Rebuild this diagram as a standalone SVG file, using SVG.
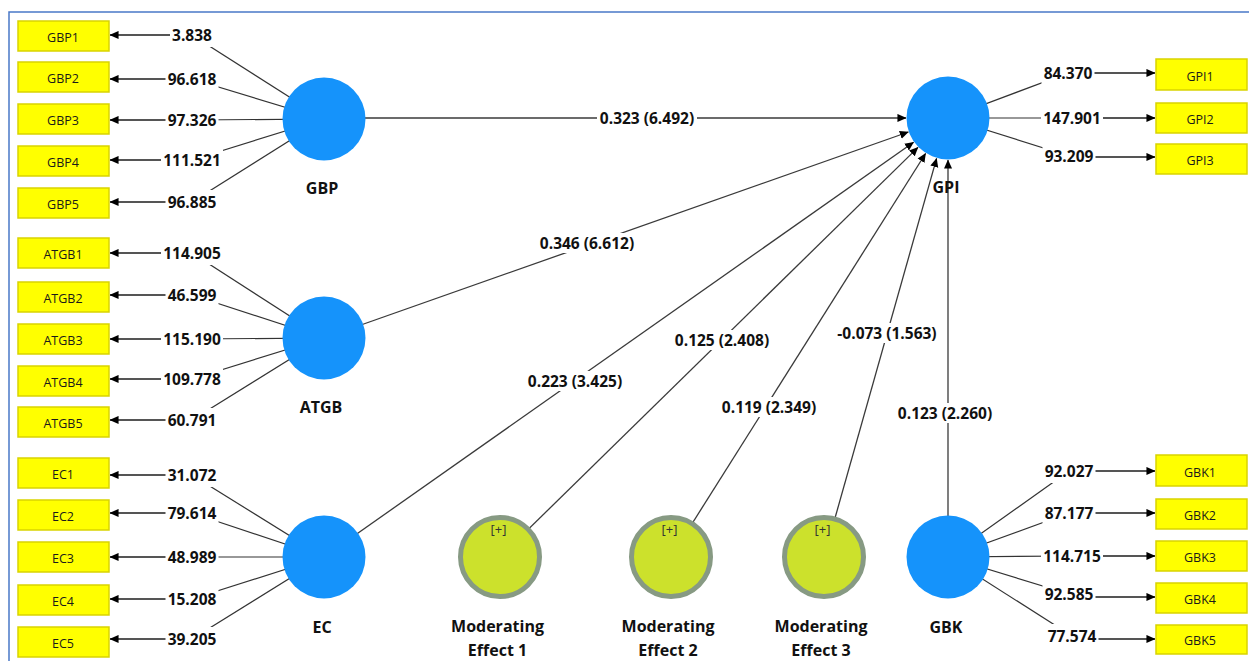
<svg xmlns="http://www.w3.org/2000/svg" width="1249" height="661" viewBox="0 0 1249 661">
<defs>
<marker id="ah" markerUnits="userSpaceOnUse" viewBox="0 0 10 10" markerWidth="9" markerHeight="9" refX="9.5" refY="5" orient="auto">
<path d="M0,0.5 L10,5 L0,9.5 z" fill="#000"/>
</marker>
<style>
.ind rect{fill:#ffff00;stroke:#d9d300;stroke-width:1.5}
.ind text{font-family:"Open Sans","Liberation Sans",sans-serif;font-size:12.5px;fill:#1a1a1a;text-anchor:middle}
.lv circle{fill:#1593fb}
.mod circle{fill:#cce12c;stroke:#879a83;stroke-width:5}
.nm{font-family:"Open Sans","Liberation Sans",sans-serif;font-size:16px;font-weight:bold;fill:#111;text-anchor:middle}
.plus{font-family:"Open Sans","Liberation Sans",sans-serif;font-size:13px;fill:#333;text-anchor:middle}
.ld{stroke:#333;stroke-width:1.2;fill:none}
.arr{stroke:#555;stroke-width:2;fill:none;marker-end:url(#ah)}
.pth{stroke:#3a3a3a;stroke-width:1.3;fill:none;marker-end:url(#ah)}
.vb{fill:#fff}
.vt{font-family:"Open Sans","Liberation Sans",sans-serif;font-size:15.5px;font-weight:bold;fill:#111;text-anchor:middle}
</style>
</defs>
<rect x="0" y="0" width="1249" height="661" fill="#fff"/>
<path d="M9,661 V12 H1249" fill="none" stroke="#4a78c8" stroke-width="1.5"/>

<g id="connectors">
<!-- GBP loadings -->
<line class="ld" x1="324" y1="119" x2="192" y2="35"/>
<line class="ld" x1="324" y1="119" x2="192" y2="79"/>
<line class="ld" x1="324" y1="119" x2="192" y2="120"/>
<line class="ld" x1="324" y1="119" x2="192" y2="160"/>
<line class="ld" x1="324" y1="119" x2="192" y2="202"/>
<line class="arr" x1="192" y1="35" x2="110" y2="35"/>
<line class="arr" x1="192" y1="79" x2="110" y2="79"/>
<line class="arr" x1="192" y1="120" x2="110" y2="120"/>
<line class="arr" x1="192" y1="160" x2="110" y2="160"/>
<line class="arr" x1="192" y1="202" x2="110" y2="202"/>
<!-- ATGB loadings -->
<line class="ld" x1="324" y1="338" x2="192" y2="253"/>
<line class="ld" x1="324" y1="338" x2="192" y2="295"/>
<line class="ld" x1="324" y1="338" x2="192" y2="339"/>
<line class="ld" x1="324" y1="338" x2="192" y2="379"/>
<line class="ld" x1="324" y1="338" x2="192" y2="420"/>
<line class="arr" x1="192" y1="253" x2="110" y2="253"/>
<line class="arr" x1="192" y1="295" x2="110" y2="295"/>
<line class="arr" x1="192" y1="339" x2="110" y2="339"/>
<line class="arr" x1="192" y1="379" x2="110" y2="379"/>
<line class="arr" x1="192" y1="420" x2="110" y2="420"/>
<!-- EC loadings -->
<line class="ld" x1="324" y1="557" x2="192" y2="475"/>
<line class="ld" x1="324" y1="557" x2="192" y2="513"/>
<line class="ld" x1="324" y1="557" x2="192" y2="557"/>
<line class="ld" x1="324" y1="557" x2="192" y2="599"/>
<line class="ld" x1="324" y1="557" x2="192" y2="639"/>
<line class="arr" x1="192" y1="475" x2="110" y2="475"/>
<line class="arr" x1="192" y1="513" x2="110" y2="513"/>
<line class="arr" x1="192" y1="557" x2="110" y2="557"/>
<line class="arr" x1="192" y1="599" x2="110" y2="599"/>
<line class="arr" x1="192" y1="639" x2="110" y2="639"/>
<!-- GPI loadings -->
<line class="ld" x1="948" y1="118" x2="1068" y2="73"/>
<line class="ld" x1="948" y1="118" x2="1072" y2="118"/>
<line class="ld" x1="948" y1="118" x2="1069" y2="156"/>
<line class="arr" x1="1068" y1="73" x2="1155" y2="73"/>
<line class="arr" x1="1072" y1="118" x2="1155" y2="118"/>
<line class="arr" x1="1069" y1="157" x2="1155" y2="157"/>
<!-- GBK loadings -->
<line class="ld" x1="948" y1="557" x2="1069" y2="471"/>
<line class="ld" x1="948" y1="557" x2="1069" y2="513"/>
<line class="ld" x1="948" y1="557" x2="1072" y2="556"/>
<line class="ld" x1="948" y1="557" x2="1069" y2="594"/>
<line class="ld" x1="948" y1="557" x2="1072" y2="636"/>
<line class="arr" x1="1069" y1="471" x2="1155" y2="471"/>
<line class="arr" x1="1069" y1="513" x2="1155" y2="513"/>
<line class="arr" x1="1072" y1="556" x2="1155" y2="556"/>
<line class="arr" x1="1069" y1="597" x2="1155" y2="597"/>
<line class="arr" x1="1072" y1="639" x2="1155" y2="639"/>
<!-- structural paths -->
<line class="pth" x1="324" y1="118" x2="906" y2="118"/>
<line class="pth" x1="324" y1="338" x2="908.4" y2="132"/>
<line class="pth" x1="324" y1="557" x2="913.6" y2="142.2"/>
<line class="pth" x1="500" y1="557" x2="918" y2="147.4"/>
<line class="pth" x1="671" y1="557" x2="925.6" y2="153.5"/>
<line class="pth" x1="824" y1="557" x2="936.6" y2="158.4"/>
<line class="pth" x1="948" y1="557" x2="948" y2="160"/>

<!-- loading labels -->
<rect class="vb" x="170" y="23" width="44" height="24"/><text class="vt" x="192" y="40.5">3.838</text>
<rect class="vb" x="165.5" y="67" width="53" height="24"/><text class="vt" x="192" y="84.5">96.618</text>
<rect class="vb" x="165.5" y="108" width="53" height="24"/><text class="vt" x="192" y="125.5">97.326</text>
<rect class="vb" x="161" y="148" width="62" height="24"/><text class="vt" x="192" y="165.5">111.521</text>
<rect class="vb" x="165.5" y="190" width="53" height="24"/><text class="vt" x="192" y="207.5">96.885</text>

<rect class="vb" x="161" y="241" width="62" height="24"/><text class="vt" x="192" y="258.5">114.905</text>
<rect class="vb" x="165.5" y="283" width="53" height="24"/><text class="vt" x="192" y="300.5">46.599</text>
<rect class="vb" x="161" y="327" width="62" height="24"/><text class="vt" x="192" y="344.5">115.190</text>
<rect class="vb" x="161" y="367" width="62" height="24"/><text class="vt" x="192" y="384.5">109.778</text>
<rect class="vb" x="165.5" y="408" width="53" height="24"/><text class="vt" x="192" y="425.5">60.791</text>

<rect class="vb" x="165.5" y="463" width="53" height="24"/><text class="vt" x="192" y="480.5">31.072</text>
<rect class="vb" x="165.5" y="501" width="53" height="24"/><text class="vt" x="192" y="518.5">79.614</text>
<rect class="vb" x="165.5" y="545" width="53" height="24"/><text class="vt" x="192" y="562.5">48.989</text>
<rect class="vb" x="165.5" y="587" width="53" height="24"/><text class="vt" x="192" y="604.5">15.208</text>
<rect class="vb" x="165.5" y="627" width="53" height="24"/><text class="vt" x="192" y="644.5">39.205</text>

<rect class="vb" x="1041.5" y="61" width="53" height="24"/><text class="vt" x="1068" y="78.5">84.370</text>
<rect class="vb" x="1041" y="106" width="62" height="24"/><text class="vt" x="1072" y="123.5">147.901</text>
<rect class="vb" x="1042.5" y="144" width="53" height="24"/><text class="vt" x="1069" y="161.5">93.209</text>

<rect class="vb" x="1042.5" y="459" width="53" height="24"/><text class="vt" x="1069" y="476.5">92.027</text>
<rect class="vb" x="1042.5" y="501" width="53" height="24"/><text class="vt" x="1069" y="518.5">87.177</text>
<rect class="vb" x="1041" y="544" width="62" height="24"/><text class="vt" x="1072" y="561.5">114.715</text>
<rect class="vb" x="1042.5" y="582" width="53" height="24"/><text class="vt" x="1069" y="599.5">92.585</text>
<rect class="vb" x="1045.5" y="624" width="53" height="24"/><text class="vt" x="1072" y="641.5">77.574</text>

<!-- path labels -->
<rect class="vb" x="597" y="108" width="100" height="20"/><text class="vt" x="647" y="123.5">0.323 (6.492)</text>
<rect class="vb" x="537" y="233" width="100" height="20"/><text class="vt" x="587" y="248.5">0.346 (6.612)</text>
<rect class="vb" x="525" y="371" width="100" height="20"/><text class="vt" x="575" y="386.5">0.223 (3.425)</text>
<rect class="vb" x="672" y="330" width="100" height="20"/><text class="vt" x="722" y="345.5">0.125 (2.408)</text>
<rect class="vb" x="719" y="397" width="100" height="20"/><text class="vt" x="769" y="412.5">0.119 (2.349)</text>
<rect class="vb" x="835" y="323" width="104" height="20"/><text class="vt" x="887" y="338.5">-0.073 (1.563)</text>
<rect class="vb" x="895" y="403" width="100" height="20"/><text class="vt" x="945" y="418.5">0.123 (2.260)</text>
</g>

<!-- latent variables -->
<g id="GBP" class="lv"><circle cx="324" cy="119" r="41.5"/><text class="nm" x="322" y="194">GBP</text></g>
<g id="ATGB" class="lv"><circle cx="324" cy="338" r="41.5"/><text class="nm" x="321" y="413">ATGB</text></g>
<g id="EC" class="lv"><circle cx="324" cy="557" r="41.5"/><text class="nm" x="322" y="632.5">EC</text></g>
<g id="GPI" class="lv"><circle cx="948" cy="118" r="41.5"/><text class="nm" x="946" y="193">GPI</text></g>
<g id="GBK" class="lv"><circle cx="948" cy="557" r="41.5"/><text class="nm" x="946" y="632.5">GBK</text></g>

<g id="ME1" class="mod"><circle cx="500" cy="557" r="39.5"/><text class="plus" x="498.5" y="534">[+]</text><text class="nm" x="497.5" y="631.5">Moderating</text><text class="nm" x="497.5" y="655.5">Effect 1</text></g>
<g id="ME2" class="mod"><circle cx="671" cy="557" r="39.5"/><text class="plus" x="669.5" y="534">[+]</text><text class="nm" x="668" y="631.5">Moderating</text><text class="nm" x="668" y="655.5">Effect 2</text></g>
<g id="ME3" class="mod"><circle cx="824" cy="557" r="39.5"/><text class="plus" x="822.5" y="534">[+]</text><text class="nm" x="821" y="631.5">Moderating</text><text class="nm" x="821" y="655.5">Effect 3</text></g>

<!-- indicators -->
<g id="GBP1" class="ind"><rect x="18" y="21" width="91" height="30"/><text x="63" y="42">GBP1</text></g>
<g id="GBP2" class="ind"><rect x="18" y="62" width="91" height="30"/><text x="63" y="83">GBP2</text></g>
<g id="GBP3" class="ind"><rect x="18" y="104" width="91" height="30"/><text x="63" y="125">GBP3</text></g>
<g id="GBP4" class="ind"><rect x="18" y="146" width="91" height="30"/><text x="63" y="167">GBP4</text></g>
<g id="GBP5" class="ind"><rect x="18" y="188" width="91" height="30"/><text x="63" y="209">GBP5</text></g>

<g id="ATGB1" class="ind"><rect x="18" y="238" width="91" height="30"/><text x="63" y="259">ATGB1</text></g>
<g id="ATGB2" class="ind"><rect x="18" y="282" width="91" height="30"/><text x="63" y="303">ATGB2</text></g>
<g id="ATGB3" class="ind"><rect x="18" y="324" width="91" height="30"/><text x="63" y="345">ATGB3</text></g>
<g id="ATGB4" class="ind"><rect x="18" y="366" width="91" height="30"/><text x="63" y="387">ATGB4</text></g>
<g id="ATGB5" class="ind"><rect x="18" y="407" width="91" height="30"/><text x="63" y="428">ATGB5</text></g>

<g id="EC1" class="ind"><rect x="18" y="458" width="91" height="30"/><text x="63" y="479">EC1</text></g>
<g id="EC2" class="ind"><rect x="18" y="500" width="91" height="30"/><text x="63" y="521">EC2</text></g>
<g id="EC3" class="ind"><rect x="18" y="542" width="91" height="30"/><text x="63" y="563">EC3</text></g>
<g id="EC4" class="ind"><rect x="18" y="585" width="91" height="30"/><text x="63" y="606">EC4</text></g>
<g id="EC5" class="ind"><rect x="18" y="627" width="91" height="30"/><text x="63" y="648">EC5</text></g>

<g id="GPI1" class="ind"><rect x="1156" y="59" width="91" height="31"/><text x="1200" y="80.5">GPI1</text></g>
<g id="GPI2" class="ind"><rect x="1156" y="103" width="91" height="30"/><text x="1200" y="124">GPI2</text></g>
<g id="GPI3" class="ind"><rect x="1156" y="144" width="91" height="30"/><text x="1200" y="165">GPI3</text></g>

<g id="GBK1" class="ind"><rect x="1156" y="455" width="91" height="31"/><text x="1200" y="476.5">GBK1</text></g>
<g id="GBK2" class="ind"><rect x="1156" y="499" width="91" height="30"/><text x="1200" y="520">GBK2</text></g>
<g id="GBK3" class="ind"><rect x="1156" y="541" width="91" height="30"/><text x="1200" y="562">GBK3</text></g>
<g id="GBK4" class="ind"><rect x="1156" y="583" width="91" height="30"/><text x="1200" y="604">GBK4</text></g>
<g id="GBK5" class="ind"><rect x="1156" y="625" width="91" height="29"/><text x="1200" y="645">GBK5</text></g>
</svg>
